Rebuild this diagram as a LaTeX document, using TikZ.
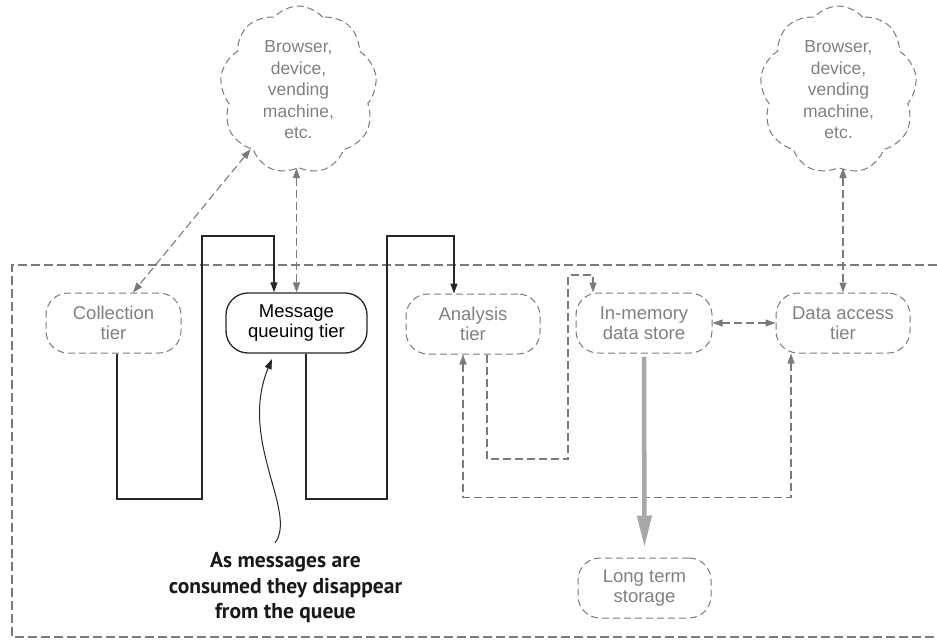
\documentclass[tikz,border=0pt]{standalone}
\usepackage{fontspec}
\setmainfont{Liberation Sans}
\newfontfamily\notefont{PT Sans}
\usetikzlibrary{arrows.meta,shapes.symbols,calc}
\definecolor{dgray}{HTML}{7A7A7A}
\definecolor{tgray}{HTML}{808080}
\definecolor{hgray}{HTML}{A8A8A8}
\tikzset{
  tier/.style={draw=dgray, dash pattern=on 7pt off 4pt, line width=1pt, rounded corners=22pt,
    minimum height=60pt, align=center, text=tgray, inner sep=2pt,
    font=\fontsize{18.5}{20.5}\selectfont},
  mqbox/.style={draw=black!85, line width=1.3pt, rounded corners=22pt,
    minimum height=60pt, align=center, text=black, inner sep=2pt,
    font=\fontsize{18.5}{20.5}\selectfont},
  cloudbox/.style={cloud, cloud puffs=9, cloud puff arc=100, aspect=0.95, draw=dgray,
    dash pattern=on 7pt off 4pt, line width=1pt, align=center, text=tgray, inner sep=-8pt,
    minimum width=157pt, minimum height=168pt, font=\fontsize{17.5}{21.5}\selectfont},
  blk/.style={draw=black!85, line width=1.3pt, -{Triangle[length=10pt,width=7pt]}},
  gdash/.style={draw=dgray, line width=1.1pt, dash pattern=on 8pt off 4pt,
    {Triangle[length=10pt,width=7pt]}-{Triangle[length=10pt,width=7pt]}},
  gdashone/.style={draw=dgray, line width=1.1pt, dash pattern=on 8pt off 4pt,
    -{Triangle[length=10pt,width=7pt]}},
  heavy/.style={draw=hgray, line width=4.5pt, -{Triangle[length=32pt,width=14pt]}},
  note/.style={align=center, font=\notefont\bfseries\fontsize{21.5}{25.5}\selectfont, text=black!90},
  frame/.style={draw=dgray, line width=1.5pt, dash pattern=on 9pt off 4pt}
}
\begin{document}
\begin{tikzpicture}[x=1pt,y=-1pt]
\useasboundingbox (0,0) rectangle (937,641);
% frame
\draw[frame] (937,265) -- (12,265) -- (12,637) -- (937,637);
% clouds
\node[cloudbox] (c1) at (298.5,90) {Browser,\\device,\\vending\\machine,\\etc.};
\node[cloudbox] (c2) at (838.5,90) {Browser,\\device,\\vending\\machine,\\etc.};
% tiers
\node[tier, minimum width=135pt] (coll) at (113.5,323) {Collection\\tier};
\node[mqbox, minimum width=141pt] (mq) at (296.5,323) {Message\\queuing tier};
\node[tier, minimum width=134pt] (ana) at (473,324) {Analysis\\tier};
\node[tier, minimum width=136pt] (mem) at (644,323) {In-memory\\data store};
\node[tier, minimum width=134pt] (dat) at (843,323) {Data access\\tier};
\node[tier, minimum width=133pt] (lts) at (644.5,588) {Long term\\storage};
% note
\node[note] (note) at (285.5,588) {As messages are\\consumed they disappear\\from the queue};
% black flow lines
\draw[blk] ([xshift=3.5pt]coll.south) |- (202,499) |- (274,236) -- ([xshift=-22.5pt]mq.north);
\draw[blk] ([xshift=9.5pt]mq.south) |- (387,499) |- (454,236) -- ([xshift=-19pt]ana.north);
% cloud connectors
\draw[gdash] (c1.231) -- ([xshift=19.5pt]coll.north);
\draw[gdash] (c1.south -| mq.north) -- (mq.north);
\draw[gdash] (c2.south -| dat.north) -- (dat.north);
% gray dashed connectors
\draw[gdashone] ([xshift=14pt]ana.south) |- (568,459) |- (593,275) -- ([xshift=-51pt]mem.north);
\draw[gdash] ([xshift=-10pt]ana.south) -- ++(0,143) -| ([xshift=-52pt]dat.south);
\draw[gdash] (mem.east) -- (dat.west);
% heavy arrow
\draw[heavy, shorten <=3pt, shorten >=10pt] (mem.south) -- (lts.north);
% annotation arrow
\draw[draw=black!85, line width=1pt, -{Triangle[length=10pt,width=7pt]}]
  (275,543) .. controls (298,512) and (238,440) .. (272,359);
\end{tikzpicture}
\end{document}
